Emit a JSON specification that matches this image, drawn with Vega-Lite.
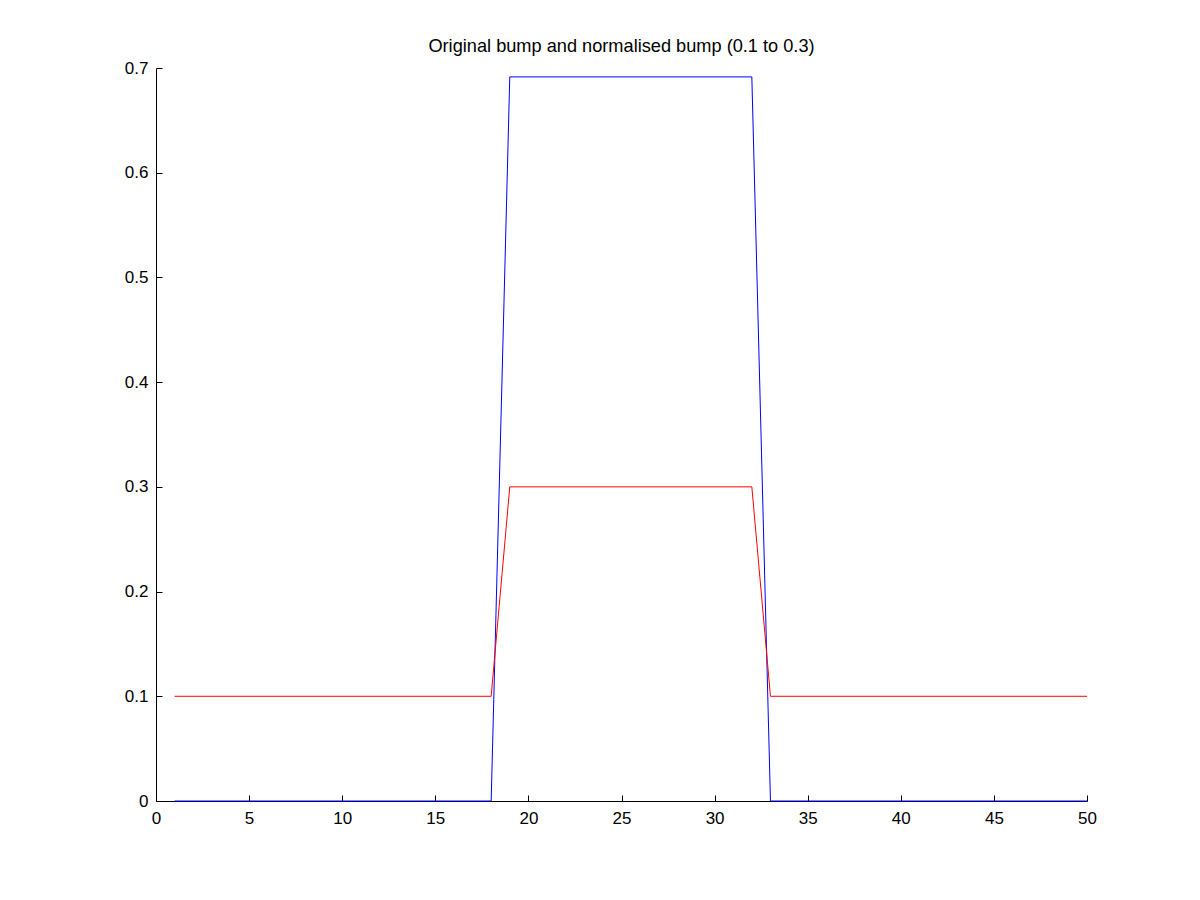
{
  "$schema": "https://vega.github.io/schema/vega-lite/v6.json",
  "width": 931,
  "height": 733,
  "autosize": {"type": "none"},
  "padding": {"left": 156, "top": 68, "right": 113, "bottom": 99},
  "background": "white",
  "config": {
    "view": {"stroke": null},
    "font": "Liberation Sans",
    "axis": {"grid": false, "domainColor": "black", "tickColor": "black", "labelColor": "black", "labelFont": "Liberation Sans", "labelFontSize": 17, "domainWidth": 1, "tickWidth": 1}
  },
  "title": {"text": "Original bump and normalised bump (0.1 to 0.3)", "font": "Liberation Sans", "fontSize": 18.2, "fontWeight": "normal", "color": "black", "offset": 3},
  "data": {"values": [
    {"x": 1, "y": 0, "s": "orig"}, {"x": 18, "y": 0, "s": "orig"}, {"x": 19, "y": 0.6915, "s": "orig"}, {"x": 32, "y": 0.6915, "s": "orig"}, {"x": 33, "y": 0, "s": "orig"}, {"x": 50, "y": 0, "s": "orig"},
    {"x": 1, "y": 0.1, "s": "norm"}, {"x": 18, "y": 0.1, "s": "norm"}, {"x": 19, "y": 0.3, "s": "norm"}, {"x": 32, "y": 0.3, "s": "norm"}, {"x": 33, "y": 0.1, "s": "norm"}, {"x": 50, "y": 0.1, "s": "norm"}
  ]},
  "mark": {"type": "line", "strokeWidth": 1, "interpolate": "linear"},
  "encoding": {
    "x": {"field": "x", "type": "quantitative", "scale": {"domain": [0, 50], "nice": false}, "axis": {"title": null, "values": [0,5,10,15,20,25,30,35,40,45,50], "tickSize": -6, "labelPadding": 15, "labelFlush": false}},
    "y": {"field": "y", "type": "quantitative", "scale": {"domain": [0, 0.7], "nice": false}, "axis": {"title": null, "values": [0,0.1,0.2,0.3,0.4,0.5,0.6,0.7], "format": ".1~f", "tickSize": -6, "labelPadding": 14, "labelFlush": false}},
    "color": {"field": "s", "type": "nominal", "scale": {"domain": ["orig", "norm"], "range": ["#0000ff", "#ff0000"]}, "legend": null},
    "order": {"field": "x", "type": "quantitative"}
  }
}
